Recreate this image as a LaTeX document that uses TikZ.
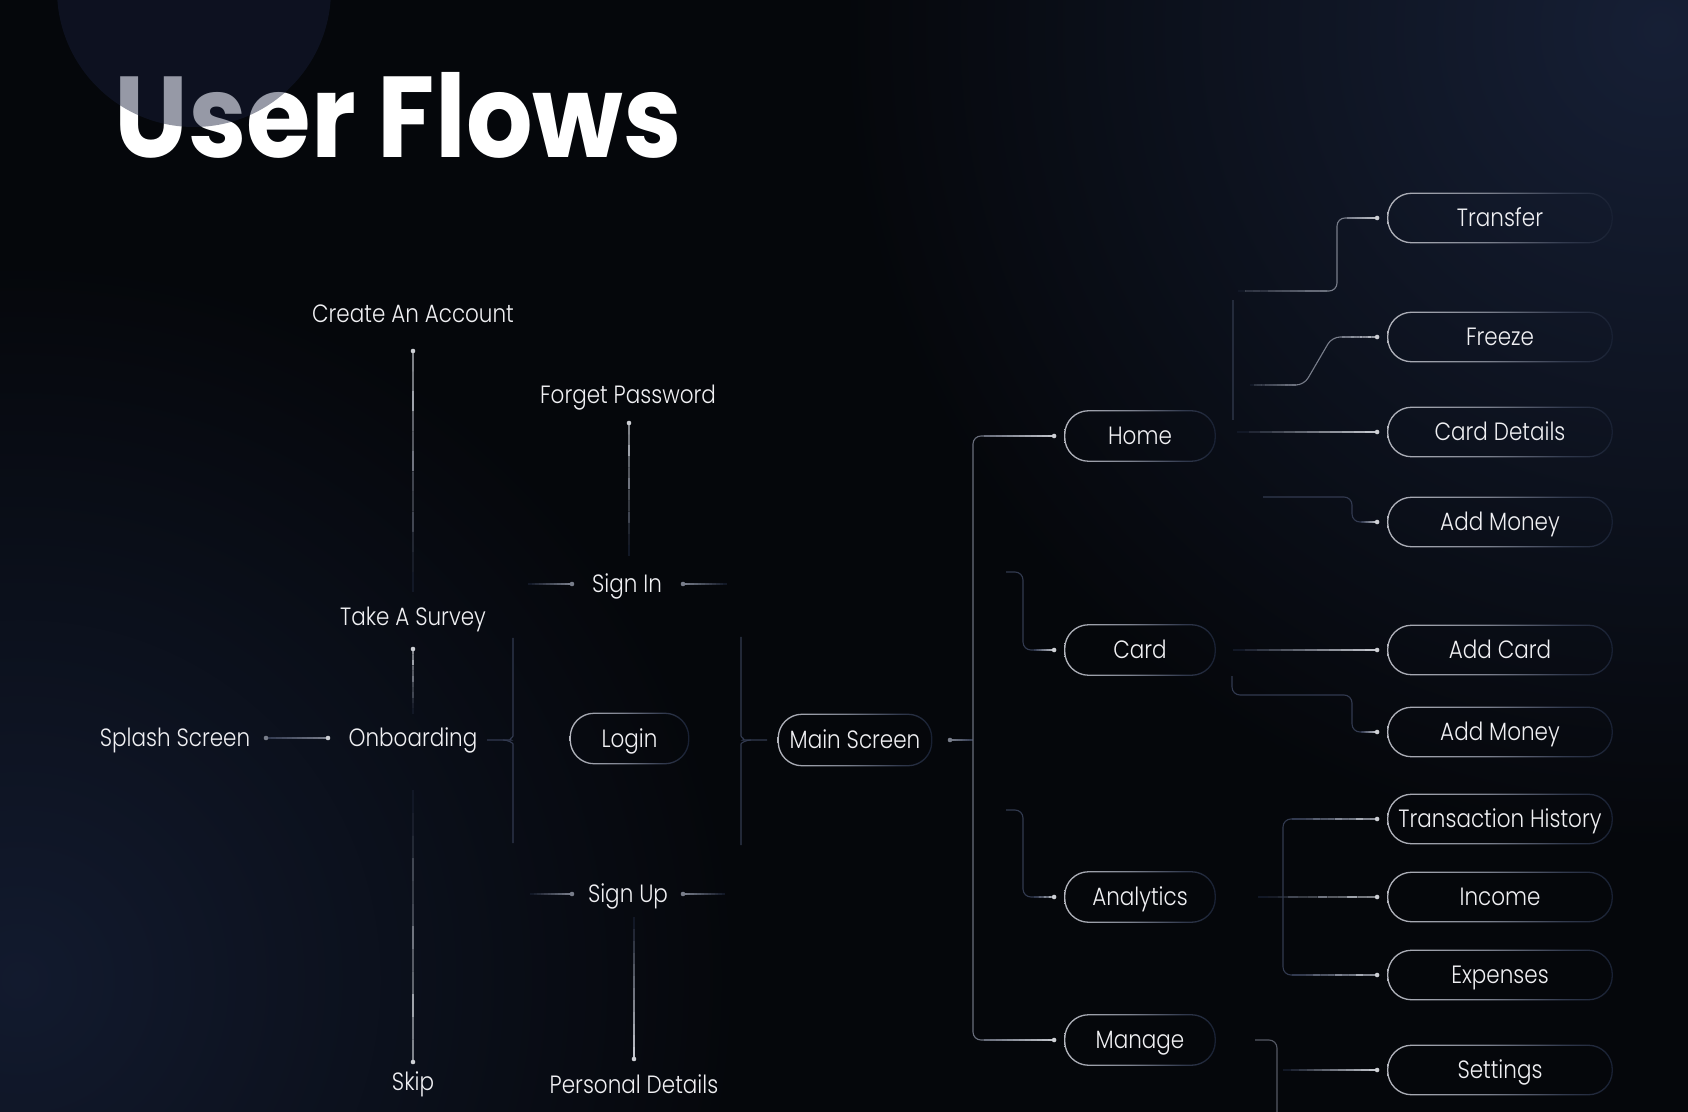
\documentclass[tikz,border=0pt]{standalone}
\usepackage{fontspec}
\usetikzlibrary{calc}
\setmainfont{Poppins}
\newfontfamily\titlefont{Poppins}[FakeStretch=0.91]
\newfontfamily\lightfont{Poppins Light}[FakeStretch=0.86]
\definecolor{bgc}{RGB}{5,7,11}
\definecolor{glowTR}{RGB}{22,31,53}
\colorlet{glowTRm}{glowTR!60!bgc}
\definecolor{glowBL}{RGB}{18,26,46}
\colorlet{glowBLm}{glowBL!60!bgc}
\definecolor{discc}{RGB}{23,31,58}
\definecolor{txtc}{RGB}{240,240,243}
\definecolor{lnBrt}{RGB}{192,195,202}
\definecolor{lnMid}{RGB}{120,125,138}
\definecolor{lnTr}{RGB}{105,110,124}
\definecolor{lnMidB}{RGB}{50,58,80}
\definecolor{lnDim}{RGB}{18,24,38}
\definecolor{dotc}{RGB}{205,207,212}
\definecolor{dotd}{RGB}{120,125,138}
\definecolor{ringL}{RGB}{180,182,190}
\definecolor{ringM}{RGB}{125,130,143}
\definecolor{ringN}{RGB}{50,58,78}
\definecolor{ringR}{RGB}{24,32,50}
\pgfdeclareradialshading{glowTRsh}{\pgfpointorigin}{color(0bp)=(glowTR); color(10bp)=(glowTRm); color(25bp)=(bgc); color(50bp)=(bgc)}
\pgfdeclareradialshading{glowBLsh}{\pgfpointorigin}{color(0bp)=(glowBL); color(10bp)=(glowBLm); color(25bp)=(bgc); color(50bp)=(bgc)}
\pgfdeclarehorizontalshading{ringsh}{100bp}{color(0bp)=(ringL); color(25bp)=(ringL); color(47bp)=(ringM); color(64bp)=(ringN); color(75bp)=(ringR); color(100bp)=(ringR)}
\newcommand\gline[4]{%
  \foreach \gi in {0,...,11}{%
    \pgfmathsetmacro\gta{\gi/12}%
    \pgfmathsetmacro\gtb{(\gi+1)/12}%
    \pgfmathtruncatemacro\gpc{100-\gi*100/11}%
    \draw[line width=0.55pt, draw=#3!\gpc!#4] ($(#1)!\gta!(#2)$) -- ($(#1)!\gtb!(#2)$);
  }}
\newcommand\ring[1]{%
  \shade[shading=ringsh, even odd rule, rounded corners=12.2pt]
    (#1.south west) rectangle (#1.north east)
    [rounded corners=11.6pt] ([shift={(0.65pt,0.65pt)}]#1.south west) rectangle ([shift={(-0.65pt,-0.65pt)}]#1.north east);}
\newcommand\dotat[2][dotc]{\fill[#1] (#2) circle (2.3);}
\begin{document}
\begin{tikzpicture}[x=0.5pt,y=-0.5pt,
  lbl/.style={text=txtc, font=\lightfont\fontsize{12.5}{15}\selectfont, inner sep=0pt, text height=8.8pt, text depth=0pt},
  pillA/.style={lbl, minimum width=75.5pt, minimum height=25.5pt},
  pillB/.style={lbl, minimum width=112.5pt, minimum height=25pt},
  titlestyle/.style={anchor=base west, text=white, font=\titlefont\bfseries\fontsize{57.5}{60}\selectfont, inner sep=0pt},
  tline/.style={line width=0.55pt, draw=lnTr, rounded corners=4pt},
  mline/.style={line width=0.55pt, draw=lnMidB, rounded corners=4pt},
  gline/.style={line width=0.55pt, draw=lnMid, rounded corners=4pt}]
\useasboundingbox (0,0) rectangle (1688,1112);
\fill[bgc] (0,0) rectangle (1688,1112);
\begin{scope}
  \clip (0,0) rectangle (1688,1112);
  \shade[shading=glowTRsh] (1660,30) circle (820);
  \shade[shading=glowBLsh] (20,980) circle (720);
\end{scope}
% title with frosted disc
\node[titlestyle] (title) at (114,158) {User Flows};
\fill[discc, opacity=0.45] (194,-10) circle (137);
% labels
\node[lbl] (ca) at (413,314) {Create An Account};
\node[lbl] (fp) at (628,395) {Forget Password};
\node[lbl] (si) at (627,584) {Sign In};
\node[lbl] (su) at (628,894) {Sign Up};
\node[lbl] (pd) at (634,1085) {Personal Details};
\node[lbl] (ts) at (413,617) {Take A Survey};
\node[lbl] (ss) at (175,738) {Splash Screen};
\node[lbl] (ob) at (413,738) {Onboarding};
\node[lbl] (sk) at (413,1082) {Skip};
\node[lbl, minimum width=59.5pt, minimum height=25.5pt] (login) at (629.5,738.5) {Login};
\node[lbl, minimum width=77pt, minimum height=26pt] (ms) at (855,740) {Main Screen};
\node[pillA] (home) at (1140,436) {Home};
\node[pillA] (card) at (1140,650) {Card};
\node[pillA] (an) at (1140,897) {Analytics};
\node[pillA] (mg) at (1140,1040) {Manage};
\node[pillB] (tr) at (1500,218) {Transfer};
\node[pillB] (fr) at (1500,337) {Freeze};
\node[pillB] (cd) at (1500,432) {Card Details};
\node[pillB] (am1) at (1500,522) {Add Money};
\node[pillB] (ac) at (1500,650) {Add Card};
\node[pillB] (am2) at (1500,732) {Add Money};
\node[pillB] (th) at (1500,819) {Transaction History};
\node[pillB] (inc) at (1500,897) {Income};
\node[pillB] (ex) at (1500,975) {Expenses};
\node[pillB] (st) at (1500,1070) {Settings};
\foreach \p in {login,ms,home,card,an,mg,tr,fr,cd,am1,ac,am2,th,inc,ex,st}{\ring{\p}}
% ---- left connectors
\coordinate (cadot) at (413,351); \coordinate (caend) at (413,592);
\gline{cadot}{caend}{lnBrt}{lnDim} \dotat{cadot}
\coordinate (fpdot) at (629,423); \coordinate (fpend) at (629,556);
\gline{fpdot}{fpend}{lnBrt}{lnDim} \dotat{fpdot}
\coordinate (tsdot) at (413,649); \coordinate (tsend) at (413,714);
\gline{tsdot}{tsend}{lnBrt}{lnDim} \dotat{tsdot}
\coordinate (skdot) at (413,1062); \coordinate (skstart) at (413,790);
\gline{skdot}{skstart}{lnBrt}{lnDim} \dotat{skdot}
\coordinate (ssdot) at (266,738); \coordinate (obdot) at (328,738);
\gline{obdot}{ssdot}{lnMid}{lnMidB} \dotat[dotd]{ssdot} \dotat{obdot}
\coordinate (sil) at (528,584); \coordinate (sildot) at (572,584);
\coordinate (sir) at (727,584); \coordinate (sirdot) at (683,584);
\gline{sildot}{sil}{lnMid}{lnDim} \dotat[dotd]{sildot}
\gline{sirdot}{sir}{lnMid}{lnDim} \dotat[dotd]{sirdot}
\coordinate (sul) at (530,894); \coordinate (suldot) at (572,894);
\coordinate (sur) at (725,894); \coordinate (surdot) at (683,894);
\gline{suldot}{sul}{lnMid}{lnDim} \dotat[dotd]{suldot}
\gline{surdot}{sur}{lnMid}{lnDim} \dotat[dotd]{surdot}
\coordinate (suv) at (634,917); \coordinate (pddot) at (634,1059);
\gline{pddot}{suv}{lnBrt}{lnDim} \dotat{pddot}
% braces
\coordinate (obstem) at (487,740);
\draw[mline] (513,638) -- (513,728) .. controls (513,737) and (508,740) .. (503,740) -- (obstem);
\draw[mline] (503,740) .. controls (508,740) and (513,743) .. (513,752) -- (513,843);
\coordinate (msstem) at (767,740);
\draw[mline] (741,637) -- (741,728) .. controls (741,737) and (746,740) .. (751,740) -- (msstem);
\draw[mline] (751,740) .. controls (746,740) and (741,743) .. (741,752) -- (741,845);
% main trunk
\coordinate (msdot) at (950,740); \coordinate (trk) at (973,740);
\gline{msdot}{trk}{lnMid}{lnMidB} \dotat[dotd]{msdot}
\coordinate (homedot) at ([xshift=-5pt]home.west);
\coordinate (carddot) at ([xshift=-5pt]card.west);
\coordinate (andot) at ([xshift=-5pt]an.west);
\coordinate (mgdot) at ([xshift=-5pt]mg.west);
\draw[tline] (homedot) -- (973,436) -- (973,1040) -- (mgdot);
\gline{homedot}{984,436}{lnBrt}{lnTr}
\gline{mgdot}{984,1040}{lnBrt}{lnTr}
\draw[mline] (1006,572) -- (1023,572) -- (1023,650) -- (carddot);
\gline{carddot}{1034,650}{lnBrt}{lnMidB}
\draw[mline] (1006,810) -- (1023,810) -- (1023,897) -- (andot);
\gline{andot}{1034,897}{lnBrt}{lnMidB}
\dotat{homedot} \dotat{carddot} \dotat{andot} \dotat{mgdot}
% home children
\foreach \n in {tr,fr,cd,am1,ac,am2,th,inc,ex,st}{\coordinate (\n dot) at ([xshift=-5pt]\n.west);}
\draw[line width=0.55pt, draw=lnMidB!70!bgc] (1233,300) -- (1233,420);
\draw[gline] (1238,291) -- (1337,291) -- (1337,218) -- (trdot);
\gline{trdot}{1347,218}{lnBrt}{lnMid}
\gline{1327,291}{1238,291}{lnMid}{lnDim}
\draw[gline] (1250,385) -- (1304,385) -- (1332,337) -- (frdot);
\gline{frdot}{1342,337}{lnBrt}{lnMid}
\gline{1296,385}{1250,385}{lnMid}{lnDim}
\gline{cddot}{1237,432}{lnBrt}{lnDim}
\draw[mline] (1263,497) -- (1352,497) -- (1352,522) -- (am1dot);
\gline{am1dot}{1361,522}{lnBrt}{lnMidB}
% card children
\gline{acdot}{1233,650}{lnBrt}{lnDim}
\draw[mline] (1232,676) -- (1232,695) -- (1352,695) -- (1352,732) -- (am2dot);
\gline{am2dot}{1361,732}{lnBrt}{lnMidB}
% analytics children
\gline{incdot}{1258,897}{lnBrt}{lnDim}
\draw[mline] (thdot) -- (1283,819) -- (1283,975) -- (exdot);
\gline{thdot}{1292,819}{lnBrt}{lnMidB}
\gline{exdot}{1292,975}{lnBrt}{lnMidB}
% manage children
\draw[line width=0.55pt, draw=lnTr!80!bgc, rounded corners=4pt] (1255,1040) -- (1277,1040) -- (1277,1112);
\gline{stdot}{1283,1070}{lnBrt}{lnDim}
\foreach \n in {tr,fr,cd,am1,ac,am2,th,inc,ex,st}{\dotat{\n dot}}
\end{tikzpicture}
\end{document}
